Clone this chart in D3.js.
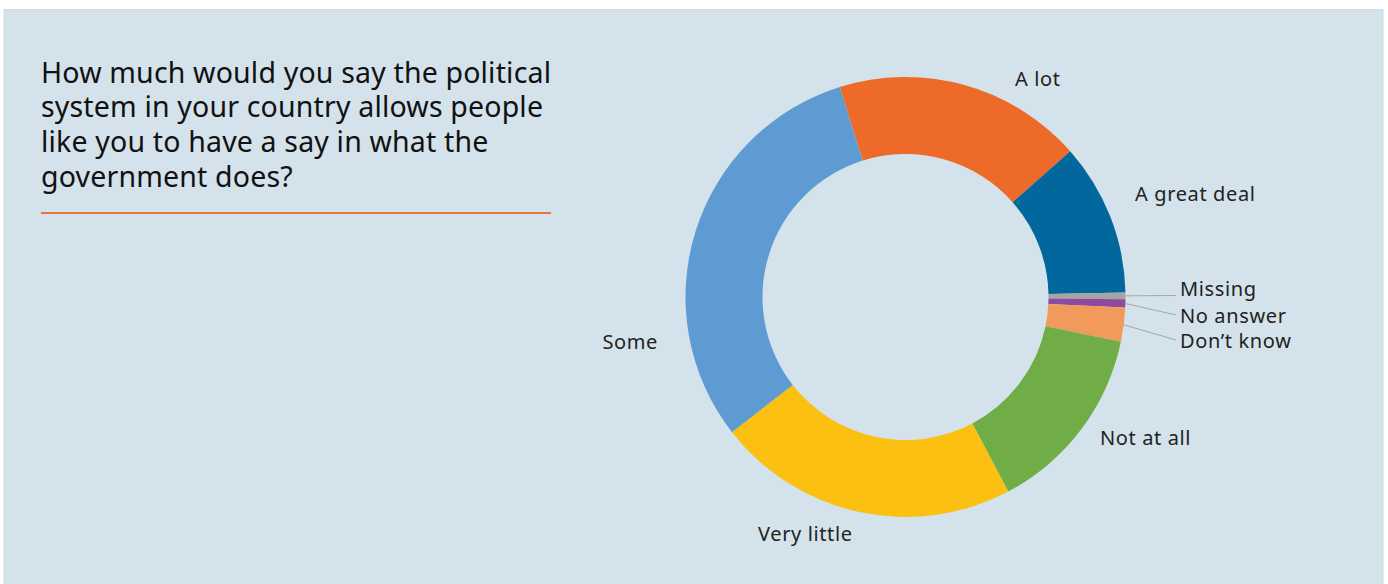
<!DOCTYPE html>
<html>
<head>
<meta charset="utf-8">
<script src="https://cdn.jsdelivr.net/npm/d3@7"></script>
<style>
  html, body { margin: 0; padding: 0; background: #ffffff; }
  svg { display: block; }
  text { font-family: "Noto Sans", "Open Sans", sans-serif; fill: #1a1a1a; }
</style>
</head>
<body>
<svg id="chart" width="1388" height="584"></svg>
<script>
// ---- data (clockwise from the top-left start) ----
const categories = ["A lot", "A great deal", "Missing", "No answer", "Don't know", "Not at all", "Very little", "Some"];
const labels     = ["A lot", "A great deal", "Missing", "No answer", "Don\u2019t know", "Not at all", "Very little", "Some"];
const values     = [18.3, 11.2, 0.5, 0.6, 2.5, 14.0, 22.2, 30.7];
const colors     = ["#EE6A28", "#02679D", "#A5A5A5", "#8E4A9E", "#F2995C", "#70AD47", "#FBC012", "#5E9BD3"];
const titleLines = [
  "How much would you say the political",
  "system in your country allows people",
  "like you to have a say in what the",
  "government does?"
];

// ---- layout ----
const W = 1388, H = 584;
const cx = 905.5, cy = 297, rOuter = 220, rInner = 143;
const startDeg = -17.4;
const labelLayout = {
  "A lot":        {dx: 109.5,  dy: -211, anchor: "start"},
  "A great deal": {dx: 229.5,  dy: -96,  anchor: "start"},
  "Missing":      {dx: 274.5,  dy: -1,   anchor: "start", leader: true},
  "No answer":    {dx: 274.5,  dy: 25.5, anchor: "start", leader: true},
  "Don't know":   {dx: 274.5,  dy: 50.5, anchor: "start", leader: true},
  "Not at all":   {dx: 194.5,  dy: 148,  anchor: "start"},
  "Very little":  {dx: -147.5, dy: 243.5,anchor: "start"},
  "Some":         {dx: -247.5, dy: 51.5, anchor: "end"}
};

const svg = d3.select("#chart");

// panel
svg.append("rect").attr("x", 4).attr("y", 9.5).attr("width", 1379).attr("height", 580)
  .attr("fill", "#D4E2EB").attr("stroke", "#D9D9D9").attr("stroke-width", 1);

// title
const title = svg.append("text").attr("x", 41).attr("y", 82.5)
  .style("font-size", "28.5px").style("fill", "#111");
titleLines.forEach((t, i) => {
  title.append("tspan").attr("x", 41).attr("y", 82.5 + i * 34.8).text(t);
});
// fit first line to the reference width (510px) by letter-spacing
const first = title.select("tspan").node();
const w0 = first.getComputedTextLength();
const ls = (510 - w0) / (titleLines[0].length - 1);
title.style("letter-spacing", ls + "px");

svg.append("line").attr("x1", 41).attr("x2", 551).attr("y1", 213).attr("y2", 213)
  .attr("stroke", "#E9733A").attr("stroke-width", 2);

// donut
const data = categories.map((c, i) => ({cat: c, label: labels[i], value: values[i], color: colors[i]}));
const start = startDeg * Math.PI / 180;
const pie = d3.pie().sort(null).value(d => d.value).startAngle(start).endAngle(start + 2 * Math.PI);
const arc = d3.arc().innerRadius(rInner).outerRadius(rOuter);
const arcs = pie(data);

const g = svg.append("g").attr("transform", `translate(${cx},${cy})`);
g.selectAll("path.slice").data(arcs).enter().append("path")
  .attr("class", "slice")
  .attr("d", arc)
  .attr("fill", d => d.data.color);

// labels
const lab = g.selectAll("g.lab").data(arcs).enter().append("g").attr("class", "lab");
const lt = lab.append("text")
  .attr("x", d => labelLayout[d.data.cat].dx)
  .attr("y", d => labelLayout[d.data.cat].dy)
  .attr("text-anchor", d => labelLayout[d.data.cat].anchor)
  .style("font-size", "20px")
  .style("fill", "#222")
  .text(d => d.data.label);
// fit "Very little" to its reference width (94px)
const vl = lt.filter(d => d.data.cat === "Very little").node();
const vw = vl.getComputedTextLength();
lt.style("letter-spacing", ((94 - vw) / 10) + "px");

// leader lines for small slices
lab.filter(d => labelLayout[d.data.cat].leader).append("line")
  .attr("x1", d => { const a = (d.startAngle + d.endAngle) / 2; return Math.sin(a) * rOuter; })
  .attr("y1", d => { const a = (d.startAngle + d.endAngle) / 2; return -Math.cos(a) * rOuter; })
  .attr("x2", d => labelLayout[d.data.cat].dx - 4)
  .attr("y2", d => d.data.cat === "Missing" ? -1.5 : labelLayout[d.data.cat].dy - 7.5)
  .attr("stroke", "#A6A6A6").attr("stroke-width", 1);
</script>
</body>
</html>
